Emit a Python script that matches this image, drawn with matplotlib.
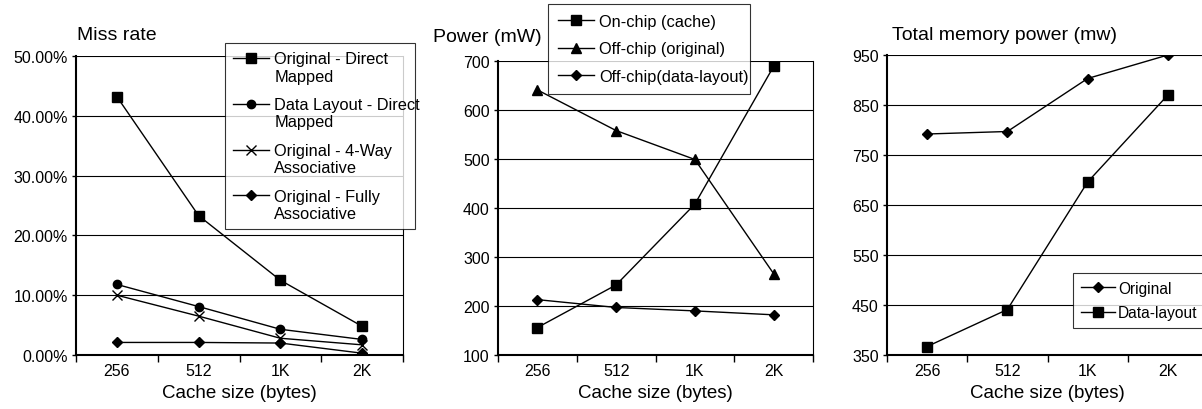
import numpy as np
import matplotlib.pyplot as plt
from matplotlib.ticker import FuncFormatter
from matplotlib.lines import Line2D
from matplotlib.legend_handler import HandlerLine2D

plt.rcParams['font.family'] = ['Liberation Sans', 'DejaVu Sans']

# Data
sizes = ['256', '512', '1K', '2K']

miss_orig_dm = [43.2, 23.3, 12.5, 4.8]
miss_layout_dm = [11.8, 8.1, 4.3, 2.6]
miss_orig_4way = [10.0, 6.5, 2.8, 1.7]
miss_orig_full = [2.1, 2.1, 2.0, 0.3]

power_onchip = [156, 243, 408, 689]
power_off_orig = [641, 558, 499, 266]
power_off_layout = [213, 197, 190, 182]

total_orig = [792, 797, 903, 950]
total_layout = [367, 441, 696, 870]

fig = plt.figure(figsize=(12.02, 4.10), dpi=100)
W, H = 1202.0, 410.0


class FirstLineHandler(HandlerLine2D):
    # put the legend handle beside the first line of a two-line label
    def create_artists(self, legend, orig_handle, xdescent, ydescent, width, height, fontsize, trans):
        arts = super().create_artists(legend, orig_handle, xdescent, ydescent, width, height, fontsize, trans)
        for a in arts:
            a.set_ydata(np.asarray(a.get_ydata()) + 0.6 * fontsize)
        return arts


def make_ax(x0, x1, y0, y1):
    return fig.add_axes([x0 / W, 1 - y1 / H, (x1 - x0) / W, (y1 - y0) / H])


def style(ax, ymin, ymax, step):
    x = np.arange(len(sizes))
    ax.set_xlim(-0.5, len(sizes) - 0.5)
    ax.set_ylim(ymin, ymax)
    ax.set_yticks(np.arange(ymin, ymax + step / 2, step))
    ax.set_xticks(x)
    ax.set_xticklabels(sizes)
    ax.set_xticks(np.arange(-0.5, len(sizes), 1.0), minor=True)
    ax.tick_params(axis='x', which='major', length=0, pad=6, labelsize=11.5)
    ax.tick_params(axis='x', which='minor', length=5, width=1, direction='out')
    ax.tick_params(axis='y', length=3, width=1, labelsize=11.5, pad=3)
    ax.grid(axis='y', color='black', linewidth=0.8)
    ax.set_axisbelow(True)
    ax.spines['top'].set_visible(False)
    ax.spines['left'].set_linewidth(1.5)
    ax.spines['bottom'].set_linewidth(1.5)
    ax.spines['right'].set_linewidth(0.8)
    ax.set_xlabel('Cache size (bytes)', fontsize=13.5, labelpad=4)


def box(ax, x0, y0, x1, y1, spacing, pad, hmap=None, fs=11.8, tpad=0.3):
    leg = ax.legend(loc='upper left', bbox_to_anchor=(x0 / W, 1 - y1 / H, (x1 - x0) / W, (y1 - y0) / H),
                    bbox_transform=fig.transFigure, mode='expand', frameon=True, fancybox=False,
                    edgecolor='black', fontsize=fs, handlelength=2.2, handletextpad=tpad,
                    labelspacing=spacing, borderpad=pad, borderaxespad=0, handler_map=hmap)
    leg.get_frame().set_linewidth(0.8)
    return leg


lk = dict(color='black', linewidth=1)
x = np.arange(len(sizes))

# Panel 1: miss rate
ax1 = make_ax(76, 403, 57, 356)
ax1.plot(x, miss_orig_dm, marker='s', markersize=7, label='Original - Direct\nMapped', **lk)
ax1.plot(x, miss_layout_dm, marker='o', markersize=6, label='Data Layout - Direct\nMapped', **lk)
ax1.plot(x, miss_orig_4way, marker='x', markersize=7, markeredgewidth=1, label='Original - 4-Way\nAssociative', **lk)
ax1.plot(x, miss_orig_full, marker='D', markersize=5, label='Original - Fully\nAssociative', **lk)
style(ax1, 0, 50, 10)
ax1.yaxis.set_major_formatter(FuncFormatter(lambda v, p: '%.2f%%' % v))
fig.text(77 / W, 1 - 35 / H, 'Miss rate', fontsize=14, va='center', ha='left')
box(ax1, 225, 44, 415, 228, 0.82, 0.5, {Line2D: FirstLineHandler()})

# Panel 2: power
ax2 = make_ax(498, 813, 62, 356)
ax2.plot(x, power_onchip, marker='s', markersize=7, label='On-chip (cache)', **lk)
ax2.plot(x, power_off_orig, marker='^', markersize=7, label='Off-chip (original)', **lk)
ax2.plot(x, power_off_layout, marker='D', markersize=5, label='Off-chip(data-layout)', **lk)
style(ax2, 100, 700, 100)
fig.text(433 / W, 1 - 37 / H, 'Power (mW)', fontsize=14, va='center', ha='left')
box(ax2, 548, 5, 750, 88, 0.77, 0.6)

# Panel 3: total memory power
ax3 = make_ax(887, 1208, 56, 356)
ax3.plot(x, total_orig, marker='D', markersize=5, label='Original', **lk)
ax3.plot(x, total_layout, marker='s', markersize=7, label='Data-layout', **lk)
style(ax3, 350, 950, 100)
fig.text(892 / W, 1 - 35 / H, 'Total memory power (mw)', fontsize=14, va='center', ha='left')
box(ax3, 1073, 274, 1215, 327, 0.62, 0.5, fs=11.2, tpad=0.2)

fig.savefig('out.png', dpi=100)
